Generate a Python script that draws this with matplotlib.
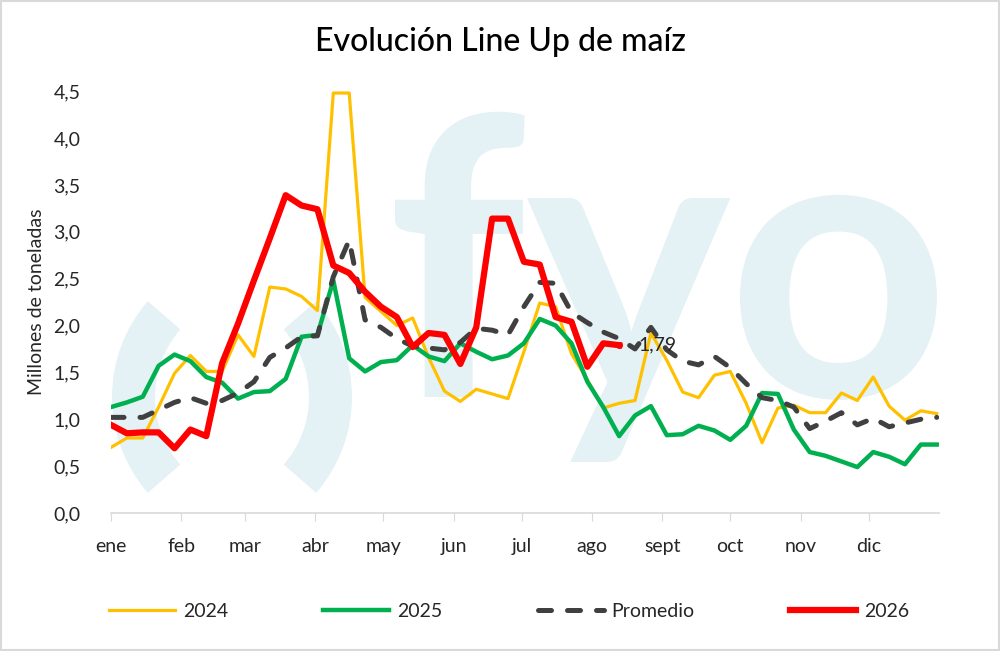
import matplotlib
matplotlib.use("Agg")
import matplotlib.pyplot as plt
from matplotlib.lines import Line2D
from matplotlib.patches import Wedge, PathPatch
from matplotlib.textpath import TextPath
from matplotlib.font_manager import FontProperties
from matplotlib.transforms import Affine2D
import numpy as np

plt.rcParams['font.family'] = ['Lato', 'DejaVu Sans']

# weekly points, day of year = 7 * week
weeks = list(range(53))

serie_2024 = [0.70, 0.80, 0.80, 1.13, 1.49, 1.68, 1.51, 1.51, 1.90, 1.67,
              2.41, 2.39, 2.31, 2.16, 4.48, 4.48, 2.30, 2.15, 2.00, 2.08,
              1.66, 1.30, 1.19, 1.32, 1.27, 1.22, 1.72, 2.24, 2.20, 1.70,
              1.42, 1.12, 1.17, 1.20, 1.92, 1.63, 1.29, 1.23, 1.47, 1.51,
              1.17, 0.75, 1.12, 1.15, 1.07, 1.07, 1.28, 1.20, 1.45, 1.14,
              0.99, 1.09, 1.06]

serie_2025 = [1.13, 1.18, 1.24, 1.57, 1.69, 1.62, 1.45, 1.39, 1.22, 1.29,
              1.30, 1.43, 1.88, 1.90, 2.48, 1.65, 1.51, 1.61, 1.63, 1.79,
              1.67, 1.62, 1.81, 1.72, 1.64, 1.68, 1.81, 2.07, 2.00, 1.81,
              1.40, 1.13, 0.82, 1.04, 1.14, 0.83, 0.84, 0.93, 0.88, 0.78,
              0.93, 1.28, 1.27, 0.89, 0.65, 0.61, 0.55, 0.49, 0.65, 0.60,
              0.52, 0.73, 0.73]

promedio = [1.02, 1.02, 1.02, 1.10, 1.18, 1.23, 1.17, 1.20, 1.28, 1.40,
            1.66, 1.76, 1.88, 1.89, 2.52, 2.91, 2.06, 1.98, 1.86, 1.78,
            1.76, 1.74, 1.82, 1.97, 1.95, 1.90, 2.20, 2.46, 2.45, 2.14,
            2.03, 1.93, 1.86, 1.75, 1.98, 1.74, 1.62, 1.58, 1.67, 1.55,
            1.38, 1.23, 1.20, 1.13, 0.90, 0.98, 1.07, 0.94, 1.01, 0.92,
            0.96, 1.00, 1.02]

serie_2026 = [0.94, 0.85, 0.86, 0.86, 0.69, 0.89, 0.82, 1.60, 2.02, 2.48,
              2.93, 3.39, 3.28, 3.24, 2.64, 2.56, 2.36, 2.20, 2.09, 1.77,
              1.92, 1.90, 1.59, 1.98, 3.14, 3.14, 2.68, 2.65, 2.09, 2.04,
              1.56, 1.81, 1.79]

meses = ['ene', 'feb', 'mar', 'abr', 'may', 'jun', 'jul', 'ago', 'sept',
         'oct', 'nov', 'dic']
inicio_mes = [0, 31, 59, 90, 120, 151, 181, 212, 243, 273, 304, 334]

y_ticks = [0, 0.5, 1, 1.5, 2, 2.5, 3, 3.5, 4, 4.5]

dias = np.array(weeks) * 7

c24, c25, cprom, c26 = '#ffc000', '#00b050', '#404040', '#ff0000'
lw24, lw25, lwprom, lw26 = 2.3, 3.2, 3.6, 4.5
dash = (0, (2.6, 3.2))

fig = plt.figure(figsize=(10, 6.51), dpi=100)

# background layer in pixel units for the watermark logo
bg = fig.add_axes([0, 0, 1, 1], zorder=-1)
bg.set_xlim(0, 1000)
bg.set_ylim(651, 0)
bg.axis('off')
wm = '#e4f1f5'
bg.add_patch(Wedge((258, 397), 146, 139, 221, width=43, color=wm, lw=0))
bg.add_patch(Wedge((206, 397), 146, -41, 41, width=43, color=wm, lw=0))

fp = FontProperties(family='Lato', weight='bold')
o_ext = TextPath((0, 0), 'o', size=1, prop=fp).get_extents()
s = 205 / o_ext.height
for letra, x_izq in [('f', 395), ('y', 527), ('o', 740)]:
    tp = TextPath((0, 0), letra, size=1, prop=fp)
    ext = tp.get_extents()
    tr = Affine2D().translate(-ext.x0, 0).scale(s, -s).translate(x_izq, 397)
    bg.add_patch(PathPatch(tr.transform_path(tp), color=wm, lw=0))

ax = fig.add_axes([0.111, 0.212, 0.828, 0.648])
ax.patch.set_alpha(0)

ax.plot(dias, serie_2024, color=c24, lw=lw24, label='2024', zorder=3)
ax.plot(dias, serie_2025, color=c25, lw=lw25, label='2025', zorder=4)
ax.plot(dias, promedio, color=cprom, lw=lwprom, ls=dash,
        dash_capstyle='round', label='Promedio', zorder=5)
d26 = dias[:len(serie_2026)]
ax.plot(d26, serie_2026, color=c26, lw=lw26, label='2026', zorder=6)
ax.plot(d26[-1], serie_2026[-1], 'o', color=c26, ms=4, zorder=7)
ax.annotate(f'{serie_2026[-1]:.2f}'.replace('.', ','),
            (d26[-1], serie_2026[-1]), xytext=(14, 0),
            textcoords='offset points', va='center', ha='left',
            fontsize=14, color='#262626', zorder=8)

ax.set_xlim(0, 365)
ax.set_ylim(0, 4.5)
ax.set_xticks(inicio_mes)
ax.set_xticklabels(meses)
ax.set_yticks(y_ticks)
ax.set_yticklabels([f'{v:.1f}'.replace('.', ',') for v in y_ticks])
ax.tick_params(axis='x', length=6, color='#d9d9d9', labelsize=14,
               labelcolor='#262626', pad=12)
ax.tick_params(axis='y', length=0, labelsize=14, labelcolor='#262626', pad=22)
for sp in ['top', 'right', 'left']:
    ax.spines[sp].set_visible(False)
ax.spines['bottom'].set_color('#d9d9d9')
ax.spines['bottom'].set_linewidth(1.2)

ax.set_ylabel('Millones de toneladas', fontsize=14, color='#262626', labelpad=6)

fig.text(0.5, 0.935, 'Evolución Line Up de maíz', ha='center', va='center',
         fontsize=23, fontweight='medium', color='black')

handles = [
    Line2D([], [], color=c24, lw=lw24),
    Line2D([], [], color=c25, lw=lw25),
    Line2D([], [], color=cprom, lw=lwprom, ls=dash, dash_capstyle='round'),
    Line2D([], [], color=c26, lw=lw26),
]
fig.legend(handles, ['2024', '2025', 'Promedio', '2026'], loc='center',
           bbox_to_anchor=(0.509, 0.061), ncol=4, frameon=False,
           handlelength=3.4, columnspacing=4.9, handletextpad=0.4,
           fontsize=14, labelcolor='#262626')

# light border round the figure
fig.patches.append(plt.Rectangle((0.001, 0.001), 0.998, 0.998,
                                 transform=fig.transFigure, fill=False,
                                 edgecolor='#d9d9d9', lw=1.5))

fig.savefig('out.png', dpi=100)
